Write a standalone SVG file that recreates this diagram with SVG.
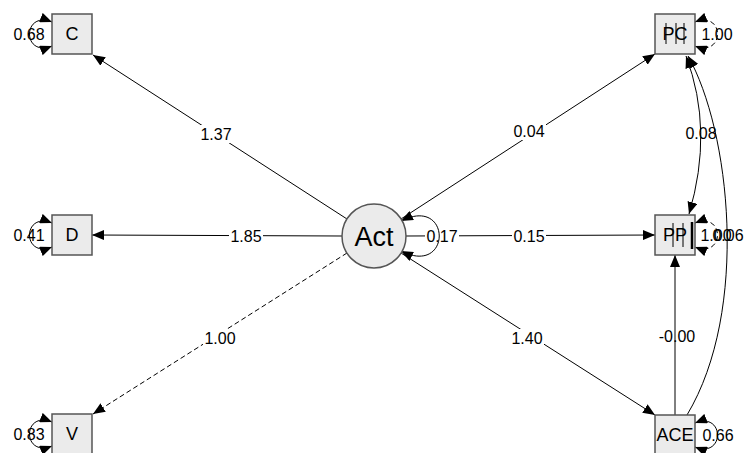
<svg xmlns="http://www.w3.org/2000/svg" width="745" height="453" viewBox="0 0 745 453">
<defs>
<marker id="ah" viewBox="0 0 12 10" refX="12" refY="5" markerWidth="12" markerHeight="10" markerUnits="userSpaceOnUse" orient="auto-start-reverse">
<path d="M0,0 L12,5 L0,10 Z" fill="#000"/>
</marker>
</defs>
<style>
.box{fill:#ebebeb;stroke:#555;stroke-width:1.5}
.node text{font-family:"Liberation Sans",Arial,sans-serif;font-size:18px;text-anchor:middle;dominant-baseline:central;fill:#000}
.e{fill:none;stroke:#000;stroke-width:1}
.dash{stroke-dasharray:5,3}
.lbl{font-family:"Liberation Sans",Arial,sans-serif;font-size:16px;text-anchor:middle;dominant-baseline:central;fill:#000}
.bg{fill:#fff}
.bar{stroke:#000;stroke-width:1}
</style>
<g id="connectors">
<path class="e" d="M347,219 L93,55" marker-end="url(#ah)"/>
<path class="e" d="M342,236 L92,235" marker-end="url(#ah)"/>
<path class="e dash" d="M347,253 L93,414" marker-end="url(#ah)"/>
<path class="e" d="M401,219 L655,54" marker-end="url(#ah)"/>
<path class="e" d="M406,236 L655,235" marker-end="url(#ah)"/>
<path class="e" d="M401,253 L655,415" marker-end="url(#ah)"/>
<path class="e" d="M675,415 L675,255" marker-end="url(#ah)"/>
<path class="e" d="M686,56 Q714,130 689,214" marker-start="url(#ah)" marker-end="url(#ah)"/>
<path class="e" d="M688,56 C730,130 750,310 687,415" marker-start="url(#ah)"/>
<rect class="bg" x="199" y="125" width="34" height="18"/><text class="lbl" x="216" y="134">1.37</text>
<rect class="bg" x="512" y="122" width="34" height="18"/><text class="lbl" x="529" y="131">0.04</text>
<rect class="bg" x="229" y="227" width="34" height="18"/><text class="lbl" x="246" y="236">1.85</text>
<rect class="bg" x="512" y="227" width="34" height="18"/><text class="lbl" x="529" y="236">0.15</text>
<rect class="bg" x="203" y="329" width="34" height="18"/><text class="lbl" x="220" y="338">1.00</text>
<rect class="bg" x="510" y="329" width="34" height="18"/><text class="lbl" x="527" y="338">1.40</text>
<text class="lbl" x="677" y="336">-0.00</text>
<text class="lbl" x="701" y="133">0.08</text>
<rect class="bg" x="425" y="227" width="34" height="18"/><text class="lbl" x="442" y="236">0.17</text>
<path class="e" d="M401,221 C452,195 452,277 401,251" marker-start="url(#ah)" marker-end="url(#ah)"/>
<text class="lbl" x="29" y="34">0.68</text>
<path class="e" d="M52,22 C22,10 22,58 52,46" marker-start="url(#ah)" marker-end="url(#ah)"/>
<text class="lbl" x="29" y="235">0.41</text>
<path class="e" d="M52,223 C22,211 22,259 52,247" marker-start="url(#ah)" marker-end="url(#ah)"/>
<text class="lbl" x="29" y="434">0.83</text>
<path class="e" d="M52,422 C22,410 22,458 52,446" marker-start="url(#ah)" marker-end="url(#ah)"/>
<text class="lbl" x="717" y="34">1.00</text>
<path class="e dash" d="M695,22 C725,10 725,58 695,46" marker-start="url(#ah)" marker-end="url(#ah)"/>
<text class="lbl" x="716" y="235">1.00</text>
<text class="lbl" x="728" y="235">0.06</text>
<path class="e dash" d="M695,223 C725,211 725,259 695,247" marker-start="url(#ah)" marker-end="url(#ah)"/>
<text class="lbl" x="718" y="435">0.66</text>
<path class="e" d="M695,423 C725,411 725,459 695,447" marker-start="url(#ah)" marker-end="url(#ah)"/>
</g>
<g id="node-C" class="node"><rect class="box" x="52" y="14" width="40" height="40"/><text x="72" y="34">C</text></g>
<g id="node-D" class="node"><rect class="box" x="52" y="215" width="40" height="40"/><text x="72" y="235">D</text></g>
<g id="node-V" class="node"><rect class="box" x="52" y="414" width="40" height="40"/><text x="72" y="434">V</text></g>
<g id="node-Act" class="node"><circle cx="374" cy="236" r="32" fill="#ebebeb" stroke="#555" stroke-width="1.5"/><text x="374" y="237" style="font-size:27px">Act</text></g>
<g id="node-PC" class="node"><rect class="box" x="655" y="14" width="40" height="40"/><text x="675" y="34">PC</text>
<line class="bar" x1="666" y1="23" x2="666" y2="44"/><line class="bar" x1="676" y1="23" x2="676" y2="44"/><line class="bar" x1="684" y1="23" x2="684" y2="44"/></g>
<g id="node-PP" class="node"><rect class="box" x="655" y="215" width="40" height="40"/><text x="675" y="235">PP</text>
<line class="bar" x1="673" y1="223" x2="673" y2="247"/><line class="bar" x1="683" y1="223" x2="683" y2="247"/><line x1="692" y1="222" x2="692" y2="249" stroke="#000" stroke-width="2.5"/></g>
<g id="node-ACE" class="node"><rect class="box" x="655" y="415" width="40" height="40"/><text x="675" y="435">ACE</text></g>
</svg>
